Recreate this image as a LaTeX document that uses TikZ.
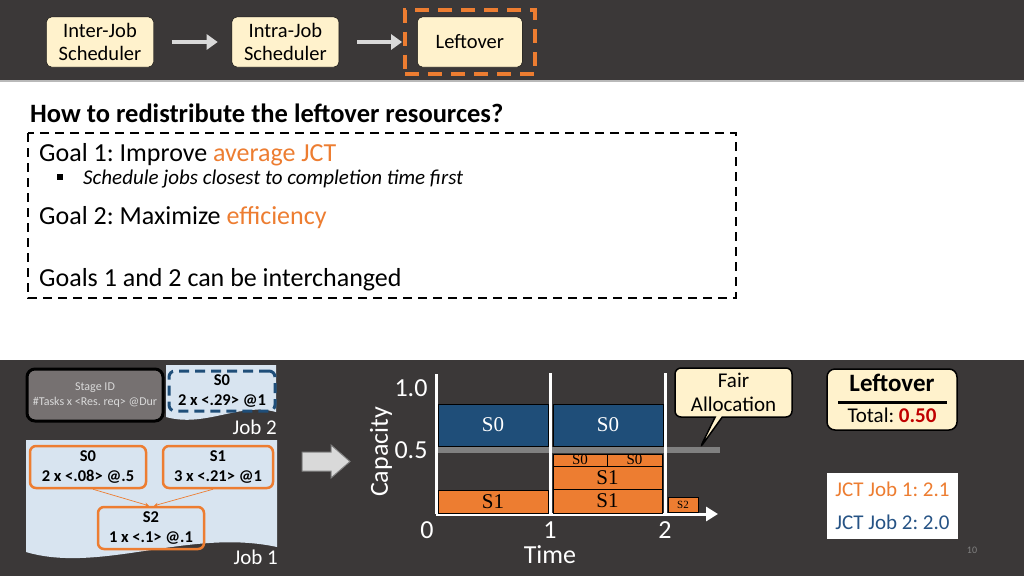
\documentclass[tikz,border=0pt]{standalone}
\usepackage{fontspec}
\setmainfont{Carlito}
\newfontfamily\serifbox{Liberation Serif}
\usetikzlibrary{positioning,fit,shapes.callouts,arrows.meta}
\frenchspacing

\definecolor{slidebg}{RGB}{59,56,56}
\definecolor{cream}{RGB}{255,242,204}
\definecolor{accent}{RGB}{237,125,49}
\definecolor{darkblue}{RGB}{31,78,121}
\definecolor{paper}{RGB}{216,228,240}
\definecolor{legendgray}{RGB}{118,113,113}
\definecolor{darkred}{RGB}{192,0,0}
\definecolor{jctblue}{RGB}{38,83,133}
\definecolor{arrowgray}{RGB}{217,217,217}

\begin{document}
\begin{tikzpicture}[x=1pt, y=-1pt, font=\fontsize{20}{24}\selectfont]
% Define styles
\tikzstyle{topbox} = [rectangle, rounded corners=5pt, draw=black, fill=cream, align=center, minimum width=107pt, minimum height=50pt, inner sep=1pt, font=\fontsize{20.5}{23}\selectfont]
\tikzstyle{grayarrow} = [-{Triangle[length=11pt,width=15pt]}, line width=4.5pt, draw=arrowgray]
\tikzstyle{plain} = [anchor=west, inner sep=0pt, font=\fontsize{26}{26}\selectfont]
\tikzstyle{stage} = [rectangle, rounded corners=6pt, draw=accent, line width=2.5pt, align=center, minimum width=112pt, minimum height=42pt, inner sep=1pt, font=\bfseries\fontsize{16.5}{19.5}\selectfont]
\tikzstyle{dep} = [-{Stealth[length=4pt,width=4pt]}, draw=accent, line width=0.7pt]
\tikzstyle{bar} = [rectangle, draw=black, line width=0.6pt, inner sep=0pt, outer sep=0pt, font=\serifbox\fontsize{21}{21}\selectfont]
\tikzstyle{bluebar} = [bar, fill=darkblue, text=white, minimum width=110pt, minimum height=42pt]
\tikzstyle{orangebar} = [bar, fill=accent, text=black]
\tikzstyle{axis} = [draw=white, line width=3pt]
\tikzstyle{axislabel} = [text=white, inner sep=0pt, font=\fontsize{26}{26}\selectfont]

% Background
\fill[slidebg] (0,0) rectangle (1024,80);
\fill[gray!55] (0,80) rectangle (1024,82);
\fill[white] (0,82) rectangle (1024,360);
\fill[slidebg] (0,360) rectangle (1024,576);
\useasboundingbox (0,0) rectangle (1024,576);

% Scheduler pipeline
\node[topbox] (interjob) at (100,42) {Inter-Job\\Scheduler};
\node[topbox, right=78pt of interjob] (intrajob) {Intra-Job\\Scheduler};
\node[topbox, minimum width=105pt, right=78pt of intrajob] (leftovertop) {Leftover};
\node[draw=accent, line width=4pt, dash pattern=on 14pt off 9pt, fit=(leftovertop), inner xsep=12pt, inner ysep=7pt] (focus) {};
\draw[grayarrow] ([xshift=18pt]interjob.east) -- ([xshift=-14pt]intrajob.west);
\draw[grayarrow] ([xshift=18pt]intrajob.east) -- ([xshift=-1pt]focus.west);

% Goals
\node[anchor=west, inner sep=0pt, font=\bfseries\fontsize{26.5}{26.5}\selectfont] (question) at (30,113) {How to redistribute the leftover resources?};
\draw[line width=1.8pt, dash pattern=on 9pt off 6pt] (28,133) rectangle (736,298);
\node[plain] (goalone) at (39,155) {Goal 1: Improve \textcolor{accent}{average JCT}};
\node[rectangle, fill=black, inner sep=0pt, minimum size=6pt] (bullet) at (60,177) {};
\node[plain, font=\itshape\fontsize{21}{21}\selectfont] (hint) at (83,179) {Schedule jobs closest to completion time first};
\node[plain] (goaltwo) at (39,218) {Goal 2: Maximize \textcolor{accent}{efficiency}};
\node[plain] (swap) at (39,280) {Goals 1 and 2 can be interchanged};

% Legend and jobs
\node[rectangle, rounded corners=8pt, draw=black, line width=3pt, fill=legendgray, text=arrowgray, minimum width=136pt, minimum height=52pt, align=center, font=\fontsize{12}{15.5}\selectfont] (legend) at (95,395) {Stage ID\\\#Tasks x <Res. req> @Dur};

\fill[paper] (166,365) -- (276,365) -- (276,412) .. controls (240,402) and (205,428) .. (166,417) -- cycle;
\node[rectangle, rounded corners=6pt, draw=darkblue, line width=3pt, dash pattern=on 10pt off 6pt, minimum width=106pt, minimum height=40pt, inner sep=1pt, align=center, font=\bfseries\fontsize{16.5}{19.5}\selectfont] (jobtwoS0) at (222,391) {S0\\2 x <.29> @1};
\node[anchor=east, inner sep=0pt, text=white, font=\fontsize{21}{21}\selectfont] (jobtwo) at (277,427) {Job 2};

\fill[paper] (26,440) -- (277,440) -- (277,547) .. controls (190,528) and (100,574) .. (26,552) -- cycle;
\node[stage, minimum width=116pt] (S0) at (88,467) {S0\\2 x <.08> @.5};
\node[stage, minimum width=110pt] (S1) at (218,467) {S1\\3 x <.21> @1};
\node[stage, minimum width=106pt] (S2) at (151,528) {S2\\1 x <.1> @.1};
\draw[dep] ([xshift=5pt]S0.south) -- ([xshift=-2pt]S2.north);
\draw[dep] ([xshift=-5pt]S1.south) -- ([xshift=3pt]S2.north);
\node[anchor=east, inner sep=0pt, text=white, font=\fontsize{21}{21}\selectfont] (jobone) at (278,557) {Job 1};

\fill[arrowgray, draw=gray, line width=1pt] (302,452) -- (331,452) -- (331,445) -- (350,461.5) -- (331,478) -- (331,471) -- (302,471) -- cycle;

% Timeline
\coordinate (origin) at (436,514);
\draw[line width=6pt, gray] (436,450) -- (720,450);
\draw[axis] (436,374) -- (origin);
\draw[axis, -{Triangle[length=12pt,width=14pt]}] (origin) -- (718,514);
\draw[axis] (550,373) -- (550,514);
\draw[axis] (665,373) -- (665,514);

\node[bluebar] (bS0a) at (493,425) {S0};
\node[bluebar] (bS0b) at (608,425) {S0};
\node[orangebar, minimum width=110pt, minimum height=23pt] (oS1a) at (493,501.5) {S1};
\node[orangebar, minimum width=54pt, minimum height=12pt, font=\serifbox\fontsize{15}{15}\selectfont] (oS0a) at (580,460) {S0};
\node[orangebar, minimum width=55pt, minimum height=12pt, font=\serifbox\fontsize{15}{15}\selectfont] (oS0b) at (634.5,460) {S0};
\node[orangebar, minimum width=109pt, minimum height=23pt] (oS1b) at (607.5,477.5) {S1};
\node[orangebar, minimum width=109pt, minimum height=24pt] (oS1c) at (607.5,501) {S1};
\node[orangebar, minimum width=30pt, minimum height=15pt, font=\serifbox\fontsize{11}{11}\selectfont] (oS2) at (683,504.5) {S2};

\node[axislabel] (tzero) at (427,530) {0};
\node[axislabel] (tone) at (550,530) {1};
\node[axislabel] (ttwo) at (665,530) {2};
\node[axislabel] (timelabel) at (550,555) {Time};
\node[axislabel] (capone) at (411,388) {1.0};
\node[axislabel] (caphalf) at (411,450) {0.5};
\node[axislabel, rotate=90] (caplabel) at (381,452) {Capacity};

% Callout and results
\coordinate (fairtip) at (700,448);
\node[rectangle callout, rounded corners=6pt, draw=black, line width=1.5pt, fill=cream, align=center, minimum width=117pt, minimum height=49pt, inner sep=1pt, font=\fontsize{21}{24}\selectfont, callout absolute pointer={(fairtip)}] (fair) at (733.5,392.5) {Fair\\Allocation};

\node[rectangle, rounded corners=8pt, draw=black, line width=1.5pt, fill=cream, minimum width=130pt, minimum height=61pt] (leftoverbox) at (892,399.5) {};
\node[font=\bfseries\fontsize{25}{25}\selectfont] (lefttitle) at (892,383) {Leftover};
\draw[line width=3pt] (838,402) -- (947,402);
\node[font=\fontsize{21}{21}\selectfont] (total) at (892,415) {Total: \textcolor{darkred}{\bfseries 0.50}};

\node[rectangle, fill=white, minimum width=131pt, minimum height=66pt, align=center, font=\fontsize{21}{33}\selectfont] (jct) at (892.5,506) {\textcolor{accent}{JCT Job 1: 2.1}\\\textcolor{jctblue}{JCT Job 2: 2.0}};

\node[text=gray, font=\fontsize{10}{10}\selectfont] (pagenum) at (972,550) {10};
\end{tikzpicture}
\end{document}
